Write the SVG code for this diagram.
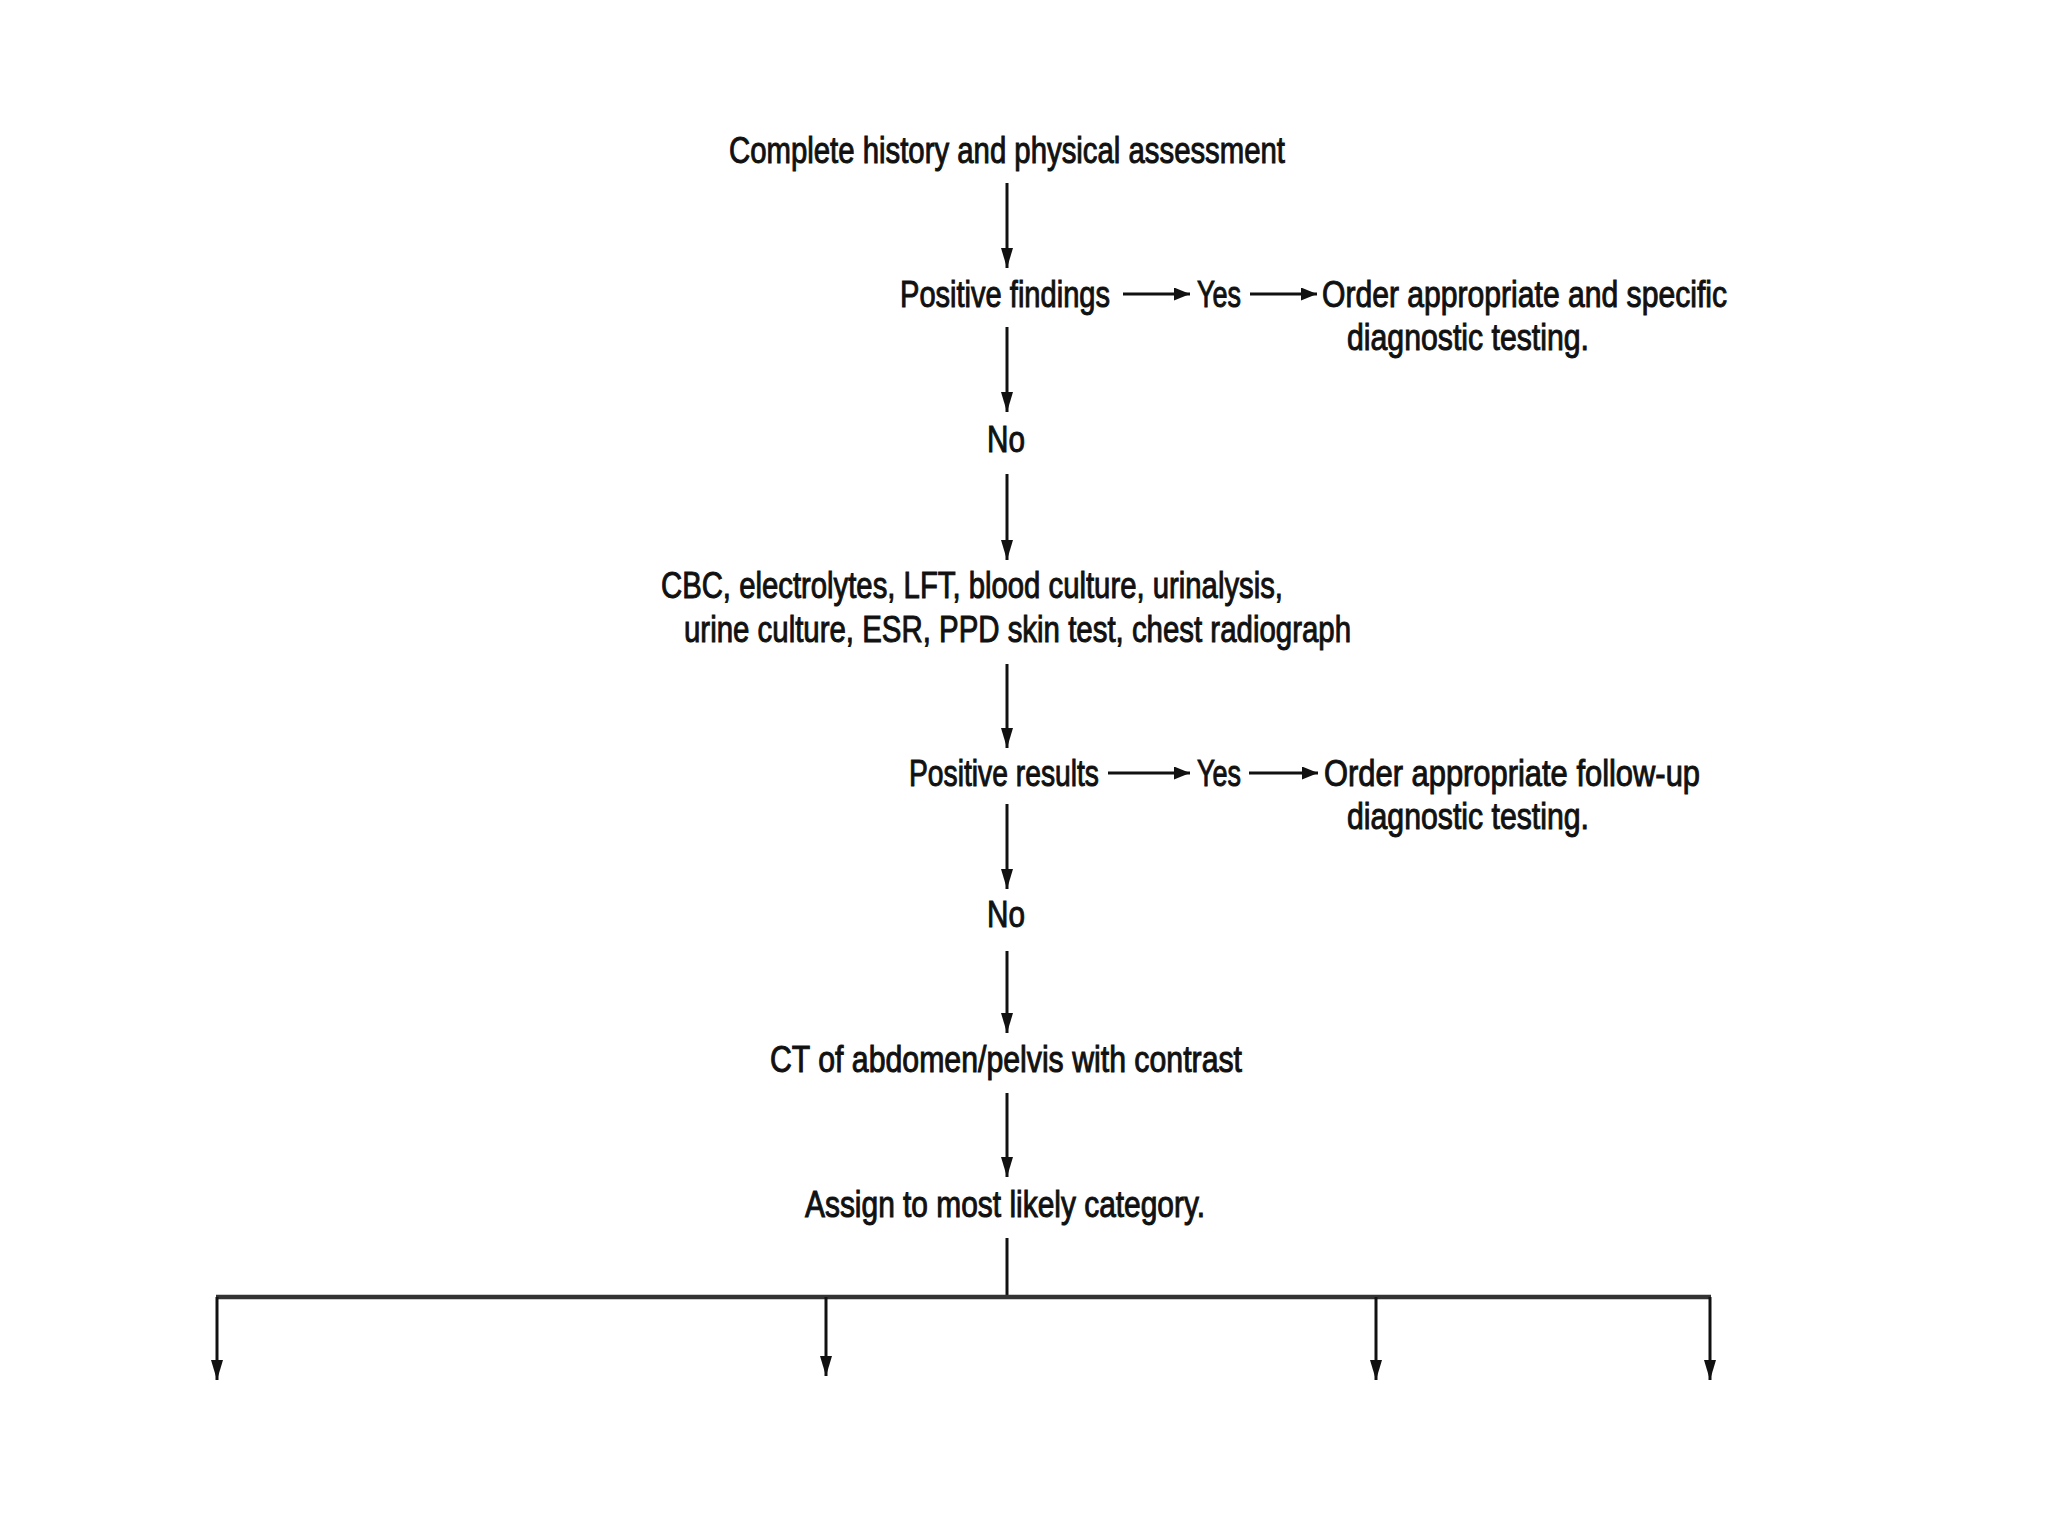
<svg xmlns="http://www.w3.org/2000/svg" width="2048" height="1536" viewBox="0 0 2048 1536">
<defs>
<marker id="ah" viewBox="0 0 20 12" refX="20" refY="6" markerWidth="20" markerHeight="12" markerUnits="userSpaceOnUse" orient="auto">
<path d="M0,0 L20,6 L0,12 z" fill="#111"/>
</marker>
<marker id="ahs" viewBox="0 0 16 13" refX="16" refY="6.5" markerWidth="16" markerHeight="13" markerUnits="userSpaceOnUse" orient="auto">
<path d="M0,0 L16,6.5 L0,13 z" fill="#111"/>
</marker>
</defs>
<style>
text{font-family:"Liberation Sans","DejaVu Sans",sans-serif;font-size:37px;fill:#111;stroke:#111;stroke-width:1}
.c{stroke:#111;stroke-width:3;fill:none}
.v{marker-end:url(#ah)}
.h{marker-end:url(#ahs)}
.bar{stroke:#333;stroke-width:4.5;fill:none}
</style>
<rect width="2048" height="1536" fill="#fff"/>
<g id="n1"><text x="729" y="163" textLength="556" lengthAdjust="spacingAndGlyphs">Complete history and physical assessment</text></g>
<g id="n2"><text x="900" y="307" textLength="210" lengthAdjust="spacingAndGlyphs">Positive findings</text></g>
<g id="n3"><text x="1197" y="307" textLength="44" lengthAdjust="spacingAndGlyphs">Yes</text></g>
<g id="n4"><text x="1322" y="307" textLength="405" lengthAdjust="spacingAndGlyphs">Order appropriate and specific</text><text x="1347" y="350" textLength="242" lengthAdjust="spacingAndGlyphs">diagnostic testing.</text></g>
<g id="n5"><text x="987" y="452" textLength="38" lengthAdjust="spacingAndGlyphs">No</text></g>
<g id="n6"><text x="661" y="598" textLength="622" lengthAdjust="spacingAndGlyphs">CBC, electrolytes, LFT, blood culture, urinalysis,</text><text x="684" y="642" textLength="667" lengthAdjust="spacingAndGlyphs">urine culture, ESR, PPD skin test, chest radiograph</text></g>
<g id="n7"><text x="909" y="786" textLength="190" lengthAdjust="spacingAndGlyphs">Positive results</text></g>
<g id="n8"><text x="1197" y="786" textLength="44" lengthAdjust="spacingAndGlyphs">Yes</text></g>
<g id="n9"><text x="1324" y="786" textLength="376" lengthAdjust="spacingAndGlyphs">Order appropriate follow-up</text><text x="1347" y="829" textLength="242" lengthAdjust="spacingAndGlyphs">diagnostic testing.</text></g>
<g id="n10"><text x="987" y="927" textLength="38" lengthAdjust="spacingAndGlyphs">No</text></g>
<g id="n11"><text x="770" y="1072" textLength="472" lengthAdjust="spacingAndGlyphs">CT of abdomen/pelvis with contrast</text></g>
<g id="n12"><text x="805" y="1217" textLength="400" lengthAdjust="spacingAndGlyphs">Assign to most likely category.</text></g>
<g id="connectors">
<line class="c v" x1="1007" y1="183" x2="1007" y2="268"/>
<line class="c h" x1="1123" y1="294" x2="1190" y2="294"/>
<line class="c h" x1="1250" y1="294" x2="1317" y2="294"/>
<line class="c v" x1="1007" y1="327" x2="1007" y2="412"/>
<line class="c v" x1="1007" y1="474" x2="1007" y2="560"/>
<line class="c v" x1="1007" y1="664" x2="1007" y2="748"/>
<line class="c h" x1="1108" y1="773" x2="1190" y2="773"/>
<line class="c h" x1="1249" y1="773" x2="1318" y2="773"/>
<line class="c v" x1="1007" y1="804" x2="1007" y2="889"/>
<line class="c v" x1="1007" y1="951" x2="1007" y2="1033"/>
<line class="c v" x1="1007" y1="1093" x2="1007" y2="1177"/>
<line class="c" x1="1007" y1="1238" x2="1007" y2="1297"/>
<line class="bar" x1="216" y1="1297" x2="1711" y2="1297"/>
<line class="c v" x1="217" y1="1297" x2="217" y2="1380"/>
<line class="c v" x1="826" y1="1297" x2="826" y2="1376"/>
<line class="c v" x1="1376" y1="1297" x2="1376" y2="1380"/>
<line class="c v" x1="1710" y1="1297" x2="1710" y2="1380"/>
</g>
</svg>
